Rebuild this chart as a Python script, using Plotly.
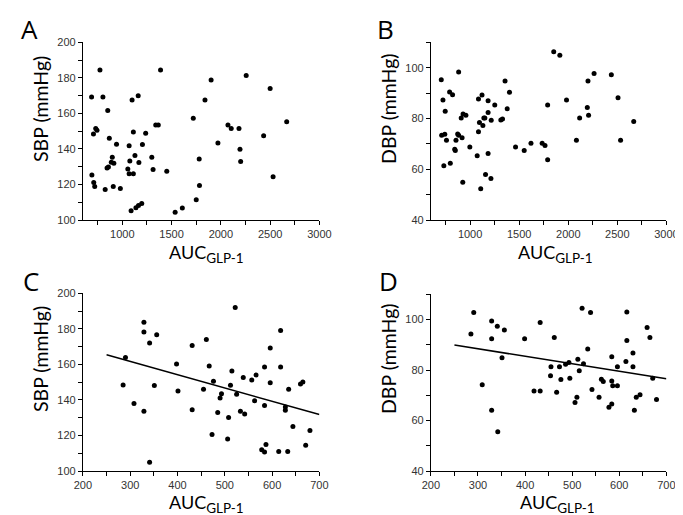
import plotly.graph_objects as go

W, H = 683, 515

# Panel A: AUC vs SBP
a_x = [688, 773, 803, 852, 691, 707, 730, 743, 710, 720, 826, 868, 941, 898, 888, 914, 859, 845,
       908, 980, 1069, 1076, 1056, 1069, 1112, 1128, 1168, 1112, 1099, 1161, 1204, 1237, 1299,
       1312, 1339, 1365, 1388, 1451, 1089, 1138, 1164, 1197, 1536, 1609, 1750, 1783, 1780, 1720,
       1839, 1901, 1970, 2072, 2105, 2184, 2194, 2201, 2257, 2434, 2500, 2530, 2668]
a_y = [169.2, 184.4, 169.2, 161.7, 125.3, 148.4, 151.5, 150.5, 121.1, 118.9, 117.2, 146.0, 142.7,
       135.3, 132.6, 131.9, 129.9, 129.3, 118.9, 117.8, 141.8, 133.3, 128.8, 126.0, 126.0, 136.3,
       132.4, 149.5, 167.6, 170.0, 142.5, 148.9, 135.3, 128.4, 153.5, 153.5, 184.4, 127.5, 105.3,
       107.0, 108.2, 109.3, 104.4, 106.8, 111.4, 119.4, 134.4, 157.3, 167.6, 178.8, 143.4, 153.5,
       151.5, 151.5, 139.9, 133.0, 181.3, 147.4, 174.0, 124.4, 155.3]

# Panel B: AUC vs DBP
b_x = [706, 723, 746, 710, 742, 759, 732, 798, 791, 821, 883, 909, 928, 957, 873, 883, 918, 856,
       849, 843, 997, 925, 1085, 1121, 1095, 1130, 1140, 1150, 1085, 1183, 1183, 1215, 1251, 1183,
       1072, 1157, 1212, 1108, 1356, 1401, 1378, 1313, 1330, 1463, 1551, 1620, 1734, 1763, 1790,
       1790, 1852, 1914, 1982, 2083, 2116, 2194, 2201, 2207, 2263, 2439, 2507, 2533, 2667]
b_y = [95.3, 87.3, 82.9, 73.4, 73.8, 71.4, 61.4, 62.4, 90.4, 89.4, 98.3, 80.2, 81.8, 81.3, 73.9,
       73.4, 72.4, 71.4, 67.4, 67.9, 68.8, 54.9, 87.7, 89.3, 78.4, 77.2, 80.2, 80.2, 74.8, 87.0,
       82.4, 79.3, 85.3, 66.2, 65.3, 57.9, 56.4, 52.3, 94.8, 90.3, 83.8, 79.4, 79.8, 68.8, 67.4,
       70.3, 70.3, 69.4, 85.3, 63.8, 106.3, 104.9, 87.3, 71.4, 80.2, 84.3, 94.8, 81.3, 97.7, 97.2,
       88.2, 71.4, 78.8]

# Panel C: AUC vs SBP
c_x = [285, 290, 308, 329, 329, 329, 341, 341, 351, 356, 398, 401, 431, 431, 455, 461, 467, 476,
       473, 485, 493, 490, 508, 506, 512, 515, 522, 525, 533, 539, 542, 557, 563, 566, 584, 584,
       578, 584, 587, 596, 596, 614, 618, 618, 628, 628, 633, 635, 644, 660, 665, 671, 680]
c_y = [148.4, 163.9, 138.0, 183.7, 178.2, 133.6, 172.1, 105.0, 148.1, 176.7, 160.2, 145.1, 134.5,
       170.6, 146.0, 174.1, 159.1, 150.6, 120.6, 133.0, 143.5, 141.1, 130.1, 118.0, 148.3, 156.3,
       192.1, 143.3, 133.6, 152.7, 132.1, 151.2, 139.6, 154.1, 158.5, 136.9, 112.0, 110.8, 115.0,
       169.2, 149.7, 111.0, 179.1, 158.5, 136.1, 134.3, 111.0, 146.0, 125.1, 149.0, 150.1, 114.5,
       122.9]

# Panel D: AUC vs DBP
d_x = [285, 291, 309, 329, 329, 329, 341, 342, 351, 356, 399, 419, 432, 432, 454, 455, 462, 467,
       473, 476, 486, 493, 495, 506, 510, 512, 515, 521, 524, 533, 539, 542, 557, 562, 566, 578,
       584, 584, 584, 586, 596, 596, 614, 616, 616, 629, 629, 632, 636, 644, 659, 665, 671, 679]
d_y = [94.3, 102.8, 74.2, 99.4, 92.4, 64.1, 97.4, 55.6, 84.9, 95.9, 92.4, 71.7, 71.7, 98.8, 77.8,
       81.3, 92.9, 71.2, 81.3, 76.3, 82.3, 83.0, 76.8, 67.2, 69.2, 84.3, 79.7, 104.5, 82.5, 88.3,
       102.8, 72.3, 69.2, 76.4, 75.5, 65.3, 85.3, 75.7, 66.6, 73.8, 81.3, 73.8, 83.4, 103.0, 91.7,
       86.8, 81.3, 64.1, 69.2, 70.2, 96.9, 92.9, 76.8, 68.3]

# Regression lines (C, D)
trend_x = [250, 700]
trend_sbp = [165.4, 131.8]
trend_dbp = [89.9, 76.6]

panel_letters = ["A", "B", "C", "D"]
sbp_title = "SBP (mmHg)"
dbp_title = "DBP (mmHg)"
x_title = "AUC<sub><span style='font-size:13.5px'>GLP-1</span></sub>"

# pixel boxes: (left, right, top, bottom)
boxes = [(68, 312, 29, 211), (427, 670, 29, 211), (68, 312, 286, 468), (427, 670, 287, 468)]

fig = go.Figure()

def px_x(p):
    return p / W

def px_y(p):
    return 1 - p / H

datasets = [(a_x, a_y), (b_x, b_y), (c_x, c_y), (d_x, d_y)]
for i, (xs, ys) in enumerate(datasets):
    sfx = "" if i == 0 else str(i + 1)
    fig.add_trace(go.Scatter(x=xs, y=ys, mode="markers",
                             marker=dict(color="black", size=5),
                             xaxis="x" + sfx, yaxis="y" + sfx, showlegend=False,
                             hoverinfo="skip"))

fig.add_trace(go.Scatter(x=trend_x, y=trend_sbp, mode="lines", line=dict(color="black", width=1.5),
                         xaxis="x3", yaxis="y3", showlegend=False))
fig.add_trace(go.Scatter(x=trend_x, y=trend_dbp, mode="lines", line=dict(color="black", width=1.5),
                         xaxis="x4", yaxis="y4", showlegend=False))

tickfont = dict(family="Liberation Sans, Arial, sans-serif", size=11, color="#333")
xranges = [[600, 3000], [600, 3000], [200, 700], [200, 700]]
xdt = [500, 500, 100, 100]
yranges = [[100, 200], [40, 110], [100, 200], [40, 110]]

layout = {}
for i in range(4):
    l, r, t, b = boxes[i]
    sfx = "" if i == 0 else str(i + 1)
    ax_common = dict(showline=True, linecolor="black", linewidth=1, ticks="outside",
                     ticklen=4, tickwidth=1, tickcolor="black", showgrid=False, zeroline=False,
                     tickfont=tickfont, mirror=False)
    layout["xaxis" + sfx] = dict(ax_common, domain=[px_x(l), px_x(r)], range=xranges[i],
                                 dtick=xdt[i], tick0=0, anchor="y" + sfx,
                                 minor=dict(dtick=xdt[i] / 2, ticks="outside", ticklen=4,
                                            tickcolor="black", showgrid=False))
    layout["yaxis" + sfx] = dict(ax_common, domain=[px_y(b), px_y(t)], range=yranges[i],
                                 dtick=20, tick0=0, anchor="x" + sfx,
                                 minor=dict(dtick=10, ticks="outside", ticklen=4,
                                            tickcolor="black", showgrid=False))

titlefont = dict(family="Lato, Open Sans, sans-serif", size=19.5, color="black")
annotations = []
letter_pos = [(13, 15), (380, 15), (14, 273), (383, 273)]
ytitle_pos = [(25, 97), (384, 97), (25, 353), (384, 353)]
xtitle_pos = [(195, 245), (556, 245), (196, 501), (558, 501)]
ytitles = [sbp_title, dbp_title, sbp_title, dbp_title]
for i in range(4):
    lx, ly = letter_pos[i]
    annotations.append(dict(text=panel_letters[i], x=px_x(lx), y=px_y(ly), xref="paper", yref="paper",
                            showarrow=False, xanchor="center", yanchor="middle",
                            font=dict(family="Open Sans, sans-serif", size=26, color="black")))
    tx, ty = ytitle_pos[i]
    annotations.append(dict(text=ytitles[i], x=px_x(tx), y=px_y(ty), xref="paper", yref="paper",
                            showarrow=False, xanchor="center", yanchor="middle", textangle=-90,
                            font=titlefont))
    xx, xy = xtitle_pos[i]
    annotations.append(dict(text=x_title, x=px_x(xx), y=px_y(xy), xref="paper", yref="paper",
                            showarrow=False, xanchor="center", yanchor="middle", borderpad=0,
                            font=dict(titlefont, size=18)))

fig.update_layout(width=W, height=H, margin=dict(l=0, r=0, t=0, b=0),
                  paper_bgcolor="white", plot_bgcolor="white",
                  annotations=annotations, **layout)

fig.write_html("out.html")
